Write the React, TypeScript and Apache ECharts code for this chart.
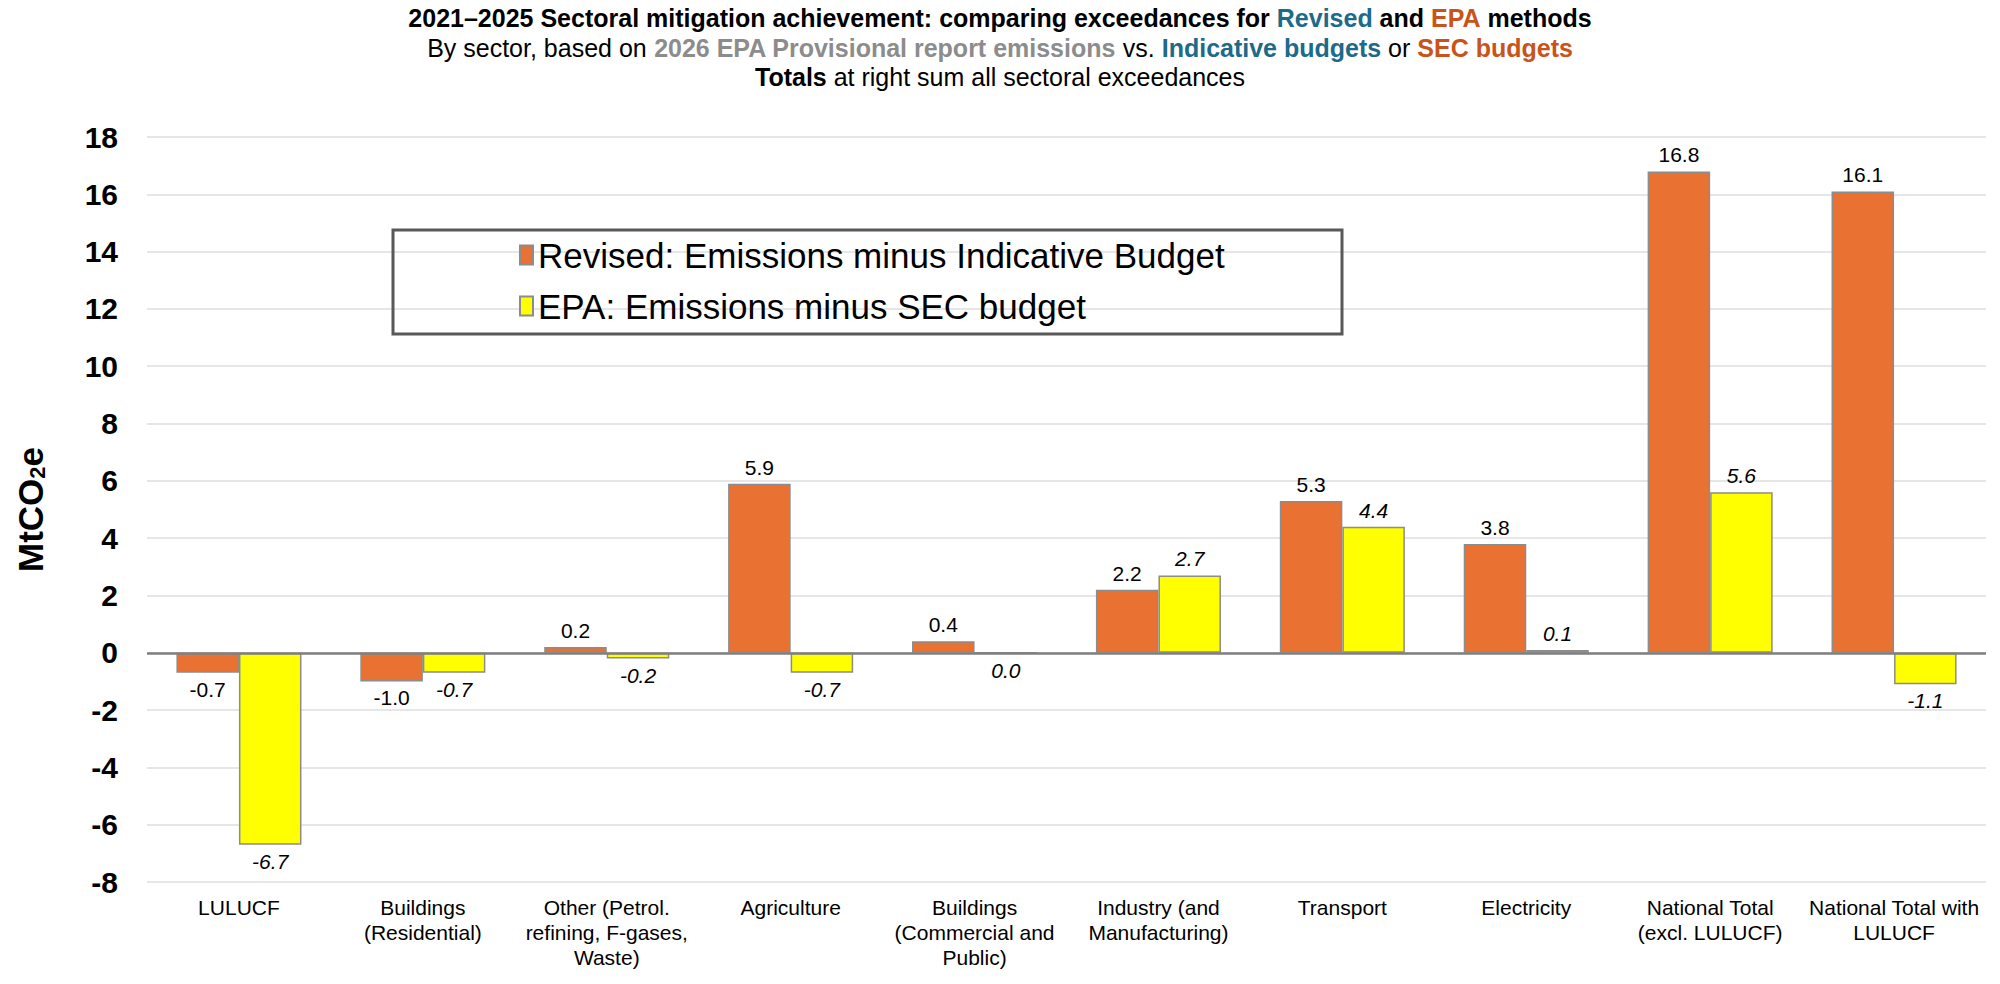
import React, { useEffect, useRef } from "react";
import * as echarts from "echarts";

const categories = [
  "LULUCF",
  "Buildings\n(Residential)",
  "Other (Petrol.\nrefining, F-gases,\nWaste)",
  "Agriculture",
  "Buildings\n(Commercial and\nPublic)",
  "Industry (and\nManufacturing)",
  "Transport",
  "Electricity",
  "National Total\n(excl. LULUCF)",
  "National Total with\nLULUCF",
];
const revisedValues = [-0.7, -1.0, 0.2, 5.9, 0.4, 2.2, 5.3, 3.8, 16.8, 16.1];
const epaValues = [-6.7, -0.7, -0.2, -0.7, 0.0, 2.7, 4.4, 0.1, 5.6, -1.1];
const yTicks = { min: -8, max: 18, interval: 2 };
const seriesNames = [
  "Revised: Emissions minus Indicative Budget",
  "EPA: Emissions minus SEC budget",
];

const FONT = "Liberation Sans, Arial, Helvetica, sans-serif";
const TITLE_SIZE = 25;

export default function App() {
  const ref = useRef<HTMLDivElement>(null);
  useEffect(() => {
    if (!ref.current) return;
    const chart = echarts.init(ref.current, null, { renderer: "svg" });
    const mkData = (vals: number[]) =>
      vals.map((v) => ({
        value: v,
        label: {
          position: v > 0 ? "top" : "bottom",
        },
      }));
    const labelBase = {
      show: true,
      fontFamily: FONT,
      fontSize: 21,
      color: "#000",
      distance: 6,
      formatter: (p: any) => Number(p.value).toFixed(1),
    };
    const rs = (weight: string, color: string) => ({
      fontFamily: FONT,
      fontSize: TITLE_SIZE,
      fontWeight: weight,
      color,
    });
    chart.setOption({
      animation: false,
      backgroundColor: "#fff",
      textStyle: { fontFamily: FONT },
      title: [
        {
          left: "center",
          top: 5,
          padding: 0,
          text: "{b|2021–2025 Sectoral mitigation achievement: comparing exceedances for }{bt|Revised}{b| and }{bo|EPA}{b| methods}",
          textStyle: {
            rich: {
              b: rs("bold", "#000"),
              bt: rs("bold", "#1d6a8a"),
              bo: rs("bold", "#c8541c"),
            },
          },
        },
        {
          left: "center",
          top: 35,
          padding: 0,
          text: "{n|By sector, based on }{g|2026 EPA Provisional report emissions}{n| vs. }{t|Indicative budgets}{n| or }{o|SEC budgets}",
          textStyle: {
            fontWeight: "normal",
            rich: {
              n: rs("normal", "#000"),
              g: rs("bold", "#8c8c8c"),
              t: rs("bold", "#1d6a8a"),
              o: rs("bold", "#c8541c"),
            },
          },
        },
        {
          left: "center",
          top: 64,
          padding: 0,
          text: "{b|Totals}{n| at right sum all sectoral exceedances}",
          textStyle: {
            fontWeight: "normal",
            rich: {
              b: rs("bold", "#000"),
              n: rs("normal", "#000"),
            },
          },
        },
      ],
      legend: {
        orient: "vertical",
        left: 519,
        top: 236,
        padding: 0,
        itemGap: 13,
        itemWidth: 13,
        itemHeight: 19,
        icon: "rect",
        data: seriesNames,
        textStyle: { fontFamily: FONT, fontSize: 35, color: "#000", lineHeight: 38 },
      },
      graphic: [
        {
          type: "rect",
          shape: { x: 393, y: 230, width: 949, height: 104 },
          style: { fill: "none", stroke: "#595959", lineWidth: 3 },
          z: 10,
        },
      ],
      grid: { left: 147, right: 14, top: 137, bottom: 102, containLabel: false },
      xAxis: {
        type: "category",
        data: categories,
        axisLine: { show: false, onZero: false },
        axisTick: { show: false },
        axisLabel: {
          interval: 0,
          fontFamily: FONT,
          fontSize: 21,
          lineHeight: 25,
          color: "#000",
          margin: 13,
          verticalAlign: "top",
        },
        splitLine: { show: false },
      },
      yAxis: {
        type: "value",
        min: yTicks.min,
        max: yTicks.max,
        interval: yTicks.interval,
        name: "{a|MtCO}{s|2}{a|e}",
        nameLocation: "middle",
        nameGap: 99,
        nameTextStyle: {
          rich: {
            a: { fontFamily: FONT, fontSize: 35, fontWeight: "bold", color: "#000" },
            s: { fontFamily: FONT, fontSize: 22, fontWeight: "bold", color: "#000", padding: [14, 0, 0, 0] },
          },
        },
        axisLine: { show: false },
        axisTick: { show: false },
        axisLabel: { fontFamily: FONT, fontSize: 30, fontWeight: "bold", color: "#000", margin: 29 },
        splitLine: { lineStyle: { color: "#dedede", width: 1.5 } },
      },
      series: [
        {
          name: seriesNames[0],
          type: "bar",
          data: mkData(revisedValues),
          barGap: "0%",
          barCategoryGap: "32%",
          itemStyle: { color: "#E97132", borderColor: "#8c8c8c", borderWidth: 1.5 },
          label: { ...labelBase },
          markLine: {
            silent: true,
            symbol: "none",
            label: { show: false },
            lineStyle: { color: "#7f7f7f", width: 2.5, type: "solid" },
            data: [{ yAxis: 0 }],
            z: 5,
          },
        },
        {
          name: seriesNames[1],
          type: "bar",
          data: mkData(epaValues),
          barGap: "0%",
          barCategoryGap: "32%",
          itemStyle: { color: "#FFFF00", borderColor: "#8c8c8c", borderWidth: 1.5 },
          label: { ...labelBase, fontStyle: "italic" },
        },
      ],
    });
    return () => chart.dispose();
  }, []);
  return (
    <div
      ref={ref}
      style={{ position: "fixed", left: 0, top: 0, width: 2000, height: 984, background: "#fff" }}
    />
  );
}
